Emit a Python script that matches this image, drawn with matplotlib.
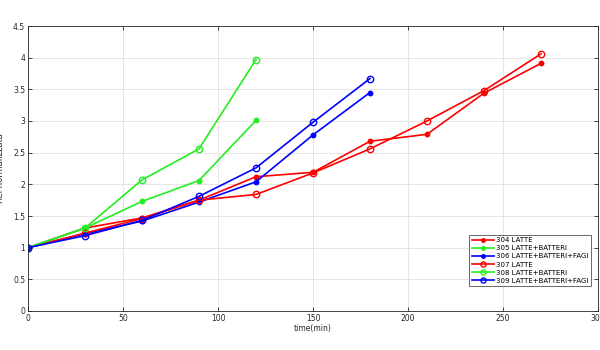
import matplotlib
matplotlib.use("Agg")
import matplotlib.pyplot as plt

t_304 = [0, 30, 60, 90, 120, 150, 180, 210, 240, 270]
v_304 = [1.0, 1.31, 1.47, 1.75, 2.12, 2.19, 2.68, 2.79, 3.44, 3.91]
t_305 = [0, 30, 60, 90, 120]
v_305 = [1.0, 1.31, 1.73, 2.06, 3.01]
t_306 = [0, 30, 60, 90, 120, 150, 180]
v_306 = [1.0, 1.22, 1.42, 1.72, 2.04, 2.78, 3.45]
t_307 = [0, 30, 60, 90, 120, 150, 180, 210, 240, 270]
v_307 = [1.0, 1.23, 1.46, 1.75, 1.84, 2.18, 2.56, 3.0, 3.48, 4.06]
t_308 = [0, 30, 60, 90, 120]
v_308 = [1.0, 1.31, 2.07, 2.56, 3.97]
t_309 = [0, 30, 60, 90, 120, 150, 180]
v_309 = [1.0, 1.19, 1.43, 1.81, 2.26, 2.98, 3.67]
labels = ["304 LATTE", "305 LATTE+BATTERI", "306 LATTE+BATTERI+FAGI",
          "307 LATTE", "308 LATTE+BATTERI", "309 LATTE+BATTERI+FAGI"]
xticks = [0, 50, 100, 150, 200, 250, 300]
yticks = [0, 0.5, 1, 1.5, 2, 2.5, 3, 3.5, 4, 4.5]

fig = plt.figure(figsize=(6, 3.5), dpi=100)
ax = fig.add_axes([28/600, 1 - 311/350, 570/600, 285/350])

R, G, B = "#ff0000", "#22ee22", "#0000ff"
series = [(t_304, v_304, R, "."), (t_305, v_305, G, "."), (t_306, v_306, B, "."),
          (t_307, v_307, R, "o"), (t_308, v_308, G, "o"), (t_309, v_309, B, "o")]
for (t, v, c, m), lab in zip(series, labels):
    if m == ".":
        ax.plot(t, v, color=c, marker="o", markersize=3.2, lw=1.2, label=lab)
    else:
        ax.plot(t, v, color=c, marker="o", markersize=4.6, mfc="none", mew=1.0, lw=1.2, label=lab)

ax.set_xlim(0, 300)
ax.set_ylim(0, 4.5)
ax.set_xticks(xticks)
ax.set_yticks(yticks)
ax.set_xticklabels([str(x) for x in xticks])
ax.set_yticklabels(["0", "0.5", "1", "1.5", "2", "2.5", "3", "3.5", "4", "4.5"])
ax.grid(True, color="#e6e6e6", lw=0.7)
ax.set_axisbelow(True)
ax.tick_params(direction="in", top=True, right=True, labelsize=5.5, colors="#262626",
               length=3, width=0.6, pad=2)
for s in ax.spines.values():
    s.set_color("#262626")
    s.set_linewidth(0.6)
ax.set_xlabel("time(min)", fontsize=5.5, color="#262626", labelpad=1)
ax.set_ylabel("Rel normalizzata", fontsize=6, color="#262626", labelpad=6)
leg = ax.legend(loc="lower right", bbox_to_anchor=(0.9935, 0.075), fontsize=5, frameon=True,
                fancybox=False, edgecolor="#262626", handlelength=3.2, borderpad=0.35,
                labelspacing=0.3, handletextpad=0.3, markerscale=0.8)
leg.get_frame().set_linewidth(0.6)
fig.savefig("out.png", dpi=100)
